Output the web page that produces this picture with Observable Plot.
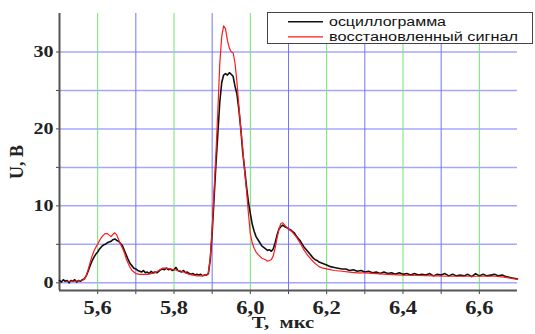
<!DOCTYPE html>
<html><head><meta charset="utf-8">
<script src="https://cdn.jsdelivr.net/npm/d3@7"></script>
<script src="https://cdn.jsdelivr.net/npm/@observablehq/plot@0.6"></script>
<style>
body{margin:0;background:#fff}
#chart{width:535px;height:334px}
g[aria-label="x-axis tick label"] text{font:bold 18px "Liberation Serif",serif}
g[aria-label="y-axis tick label"] text{font:bold 16px "Liberation Serif",serif}
</style>
</head><body><div id="chart"></div>
<script>
// --- data ---
const tOsc = [5.500,5.505,5.510,5.515,5.520,5.525,5.530,5.535,5.540,5.545,5.550,5.555,5.560,5.565,5.570,5.575,5.580,5.585,5.590,5.595,
5.600,5.605,5.610,5.615,5.620,5.625,5.630,5.635,5.640,5.645,5.650,5.655,5.660,5.665,5.670,5.675,5.680,5.685,5.690,5.695,
5.700,5.705,5.710,5.715,5.720,5.725,5.730,5.735,5.740,5.745,5.750,5.755,5.760,5.765,5.770,5.775,5.780,5.785,5.790,5.795,
5.800,5.805,5.810,5.815,5.820,5.825,5.830,5.835,5.840,5.845,5.850,5.855,5.860,5.865,5.870,5.875,5.880,5.885,5.890,5.895,
5.900,5.905,5.910,5.915,5.920,5.925,5.930,5.935,5.940,5.945,5.950,5.955,5.960,5.965,5.970,5.975,5.980,5.985,5.990,5.995,
6.000,6.005,6.010,6.015,6.020,6.025,6.030,6.035,6.040,6.045,6.050,6.055,6.060,6.065,6.070,6.075,6.080,6.085,6.090,6.095,
6.100,6.105,6.110,6.115,6.120,6.125,6.130,6.135,6.140,6.145,6.150,6.155,6.160,6.165,6.170,6.175,6.180,6.185,6.190,6.195,
6.200,6.21,6.22,6.23,6.24,6.25,6.26,6.27,6.28,6.29,6.30,6.31,6.32,6.33,6.34,6.35,6.36,6.37,6.38,6.39,
6.40,6.41,6.42,6.43,6.44,6.45,6.46,6.47,6.48,6.49,6.50,6.51,6.52,6.53,6.54,6.55,6.56,6.57,6.58,6.59,
6.60,6.61,6.62,6.63,6.64,6.65,6.66,6.67,6.68,6.69,6.70];
const uOsc = [0.3,0.1,0.4,0.2,0.3,0.0,0.3,0.2,0.4,0.1,0.3,0.2,0.4,0.5,0.9,1.5,2.2,2.8,3.3,3.7,
4.0,4.4,4.7,4.9,5.0,5.2,5.3,5.4,5.6,5.7,5.5,5.4,5.1,4.8,4.2,3.6,3.0,2.5,2.2,1.9,
1.8,1.6,1.5,1.4,1.6,1.3,1.4,1.2,1.5,1.3,1.4,1.3,1.5,1.7,1.8,1.7,1.9,1.7,1.8,1.6,
1.7,2.0,1.6,1.5,1.4,1.6,1.3,1.4,1.2,1.1,1.2,1.0,1.1,1.0,1.1,0.9,1.0,1.0,1.2,3.0,
6.5,11.0,15.5,19.5,23.5,26.0,27.0,27.2,27.0,27.3,27.1,26.8,25.5,24.5,22.5,20.0,17.0,14.8,12.5,10.5,
9.0,7.6,6.7,6.0,5.6,5.2,4.8,4.6,4.4,4.2,4.3,4.1,4.4,5.2,6.2,7.0,7.3,7.5,7.3,7.2,
7.0,6.9,6.7,6.5,6.1,5.8,5.5,5.1,4.7,4.4,4.1,3.8,3.5,3.2,3.0,2.9,2.7,2.6,2.5,2.4,
2.3,2.1,2.0,1.9,1.8,1.8,1.6,1.7,1.5,1.6,1.4,1.5,1.3,1.4,1.2,1.4,1.2,1.3,1.1,1.3,
1.1,1.2,1.0,1.2,1.0,1.1,1.0,1.2,0.9,1.1,1.0,1.2,0.9,1.1,0.9,1.0,0.9,1.1,0.8,1.2,
0.9,1.1,0.9,1.0,1.1,0.9,1.0,0.8,0.7,0.6,0.5];

const tRec = [5.52,5.54,5.56,5.565,5.57,5.575,5.58,5.585,5.59,5.595,5.60,5.605,5.61,5.615,5.62,5.625,5.63,5.635,5.64,5.645,
5.65,5.655,5.66,5.665,5.67,5.675,5.68,5.685,5.69,5.695,5.70,5.71,5.72,5.73,5.74,5.75,5.76,5.77,5.78,5.79,
5.80,5.81,5.82,5.83,5.84,5.85,5.86,5.87,5.88,5.885,5.89,5.895,5.90,5.905,5.91,5.915,5.92,5.925,5.93,5.935,
5.94,5.945,5.95,5.955,5.96,5.965,5.97,5.975,5.98,5.985,5.99,5.995,6.00,6.005,6.01,6.015,6.02,6.03,6.04,6.045,
6.05,6.055,6.06,6.065,6.07,6.075,6.08,6.085,6.09,6.095,6.10,6.11,6.12,6.13,6.14,6.15,6.16,6.17,6.18,6.19,
6.20,6.22,6.24,6.26,6.28,6.30,6.33,6.36,6.40,6.44,6.48,6.52,6.56,6.60,6.64,6.67,6.70];
const uRec = [0.2,0.2,0.3,0.5,0.9,1.7,2.6,3.4,4.1,4.6,5.0,5.5,5.9,6.2,6.4,6.4,6.2,6.0,6.3,6.5,
6.2,5.6,5.0,4.5,3.9,3.1,2.5,2.0,1.6,1.4,1.2,1.1,1.1,1.1,1.2,1.3,1.6,1.9,1.9,1.8,
1.7,1.6,1.5,1.3,1.1,1.0,0.9,0.9,1.0,1.0,1.3,3.2,7.0,12.0,17.0,22.5,28.5,32.0,33.4,33.0,
31.5,30.5,30.0,29.9,28.5,26.0,23.0,20.0,17.5,14.5,12.0,9.0,6.4,5.2,4.5,4.0,3.7,3.2,3.0,2.8,
2.9,3.0,3.5,4.5,5.8,7.0,7.7,7.8,7.5,7.2,7.0,6.6,6.0,5.2,4.3,3.6,3.0,2.5,2.1,1.9,
1.8,1.6,1.5,1.4,1.3,1.3,1.2,1.1,1.0,0.95,0.9,0.85,0.85,0.85,0.85,0.7,0.45];

const seriesNames = ["осциллограмма", "восстановленный сигнал"];
const seriesColors = ["#111111", "#ff1a1a"];
const xTicksMajor = [5.6, 5.8, 6.0, 6.2, 6.4, 6.6];
const xTickLabels = ["5,6", "5,8", "6,0", "6,2", "6,4", "6,6"];
const xTicksMinor = [5.7, 5.9, 6.1, 6.3, 6.5];
const yTicksMajor = [0, 10, 20, 30];
const yTickLabels = ["0", "10", "20", "30"];
const yTicksMinor = [5, 15, 25];
const xTitle = "T,  мкс";
const yTitle = "U, B";

const osc = tOsc.map((t, i) => ({t, u: uOsc[i]}));
const rec = tRec.map((t, i) => ({t, u: uRec[i]}));

const plot = Plot.plot({
  width: 535, height: 334,
  marginLeft: 59, marginRight: 18, marginTop: 13, marginBottom: 44,
  x: {domain: [5.5, 6.7]},
  y: {domain: [-1, 35]},
  style: {background: "#fff"},
  marks: [
    Plot.ruleY(yTicksMajor.concat(yTicksMinor), {stroke: "#a6a6ff", strokeWidth: 1.5}),
    Plot.ruleX(xTicksMinor, {stroke: "#7474f2", strokeWidth: 1}),
    Plot.ruleX(xTicksMajor, {stroke: "#72e272", strokeWidth: 1}),
    Plot.axisX(xTicksMajor.concat(xTicksMinor), {
      tickSize: 4, tickPadding: 7, stroke: "#444", fill: "#222", label: null,
      tickFormat: d => { const i = xTicksMajor.indexOf(d); return i >= 0 ? xTickLabels[i] : ""; }
    }),
    Plot.axisY(yTicksMajor.concat(yTicksMinor), {
      tickSize: 3, tickPadding: 3, stroke: "#444", fill: "#222", label: null,
      tickFormat: d => { const i = yTicksMajor.indexOf(d); return i >= 0 ? yTickLabels[i] : ""; }
    }),
    Plot.ruleY([-1], {stroke: "#555", strokeWidth: 2}),
    Plot.ruleX([5.5], {stroke: "#555", strokeWidth: 2}),
    Plot.line(osc, {x: "t", y: "u", stroke: seriesColors[0], strokeWidth: 1.6}),
    Plot.line(rec, {x: "t", y: "u", stroke: seriesColors[1], strokeWidth: 1.2})
  ]
});
document.getElementById("chart").appendChild(plot);

const svg = d3.select(plot);
svg.selectAll('g[aria-label="x-axis tick label"] text, g[aria-label="y-axis tick label"] text')
  .attr("transform", function() { return (this.getAttribute("transform") || "") + " scale(1.25,1)"; });

// axis titles
svg.append("text").text(yTitle)
  .attr("transform", "translate(17,162) rotate(-90)")
  .attr("text-anchor", "middle").attr("dy", "0.35em")
  .style("font", 'bold 18px "Liberation Serif", serif').attr("fill", "#222");
svg.append("text").text(xTitle)
  .attr("transform", "translate(283,327.5) scale(1.22,1)")
  .attr("text-anchor", "middle")
  .style("font", 'bold 17px "Liberation Serif", serif').attr("fill", "#222");

// legend
const lg = svg.append("g");
lg.append("rect").attr("x", 267.5).attr("y", 12.5).attr("width", 265).attr("height", 31)
  .attr("fill", "#fff").attr("stroke", "#444").attr("stroke-width", 1);
const rowsY = [21.7, 36.8];
seriesNames.forEach((name, i) => {
  lg.append("line").attr("x1", 288).attr("x2", 323).attr("y1", rowsY[i]).attr("y2", rowsY[i])
    .attr("stroke", seriesColors[i]).attr("stroke-width", i ? 1.2 : 1.5);
  lg.append("text").text(name).attr("x", 329).attr("y", rowsY[i] + 4.3)
    .attr("text-anchor", "start")
    .attr("textLength", i ? 189 : 117).attr("lengthAdjust", "spacingAndGlyphs")
    .style("font", '12px "Liberation Sans", Arial, sans-serif').attr("fill", "#111");
});
</script>
</body></html>
